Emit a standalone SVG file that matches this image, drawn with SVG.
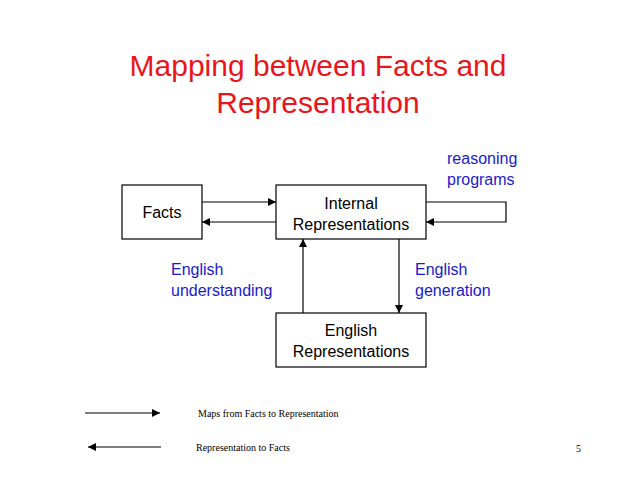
<svg xmlns="http://www.w3.org/2000/svg" width="638" height="478" viewBox="0 0 638 478">
<defs>
<style>
.box{fill:#fff;stroke:#000;stroke-width:1.2}
.t{font-family:"Liberation Sans",Arial,sans-serif;font-size:16px;fill:#000;text-anchor:middle}
.b{font-family:"Liberation Sans",Arial,sans-serif;font-size:16px;fill:#1a1acc}
.l{fill:none;stroke:#000;stroke-width:1.2}
.s{font-family:"Liberation Serif","Times New Roman",serif;font-size:10px;fill:#000}
</style>
<marker id="a" viewBox="0 0 10 10" refX="10" refY="5" markerWidth="8" markerHeight="8" markerUnits="userSpaceOnUse" orient="auto"><path d="M0,0L10,5L0,10z" fill="#000"/></marker>
</defs>
<rect width="638" height="478" fill="#fff"/>
<text x="318" y="76" font-family="'Liberation Sans',Arial,sans-serif" font-size="30" fill="#e8161b" text-anchor="middle">Mapping between Facts and</text>
<text x="318" y="113" font-family="'Liberation Sans',Arial,sans-serif" font-size="30" fill="#e8161b" text-anchor="middle">Representation</text>
<g id="connectors">
<line class="l" x1="202" y1="202" x2="276" y2="202" marker-end="url(#a)"/>
<line class="l" x1="276" y1="222" x2="202" y2="222" marker-end="url(#a)"/>
<polyline class="l" points="426,202 506,202 506,222 426,222" marker-end="url(#a)"/>
<line class="l" x1="303" y1="313" x2="303" y2="239" marker-end="url(#a)"/>
<line class="l" x1="399" y1="239" x2="399" y2="313" marker-end="url(#a)"/>
<line class="l" x1="85" y1="413" x2="160" y2="413" marker-end="url(#a)"/>
<line class="l" x1="161" y1="447" x2="88" y2="447" marker-end="url(#a)"/>
</g>
<g id="facts"><rect class="box" x="122" y="185" width="80" height="54"/><text class="t" x="162" y="218">Facts</text></g>
<g id="internal"><rect class="box" x="276" y="185" width="150" height="54"/><text class="t" x="351" y="209">Internal</text><text class="t" x="351" y="230">Representations</text></g>
<g id="english"><rect class="box" x="276" y="313" width="150" height="54"/><text class="t" x="351" y="336">English</text><text class="t" x="351" y="357">Representations</text></g>
<text class="b" x="447" y="164">reasoning</text>
<text class="b" x="447" y="185">programs</text>
<text class="b" x="171" y="275">English</text>
<text class="b" x="171" y="296">understanding</text>
<text class="b" x="415" y="275">English</text>
<text class="b" x="415" y="296">generation</text>
<text class="s" x="198" y="417">Maps from Facts  to Representation</text>
<text class="s" x="196" y="451">Representation to Facts</text>
<text class="s" x="576" y="452" font-size="13">5</text>
</svg>
